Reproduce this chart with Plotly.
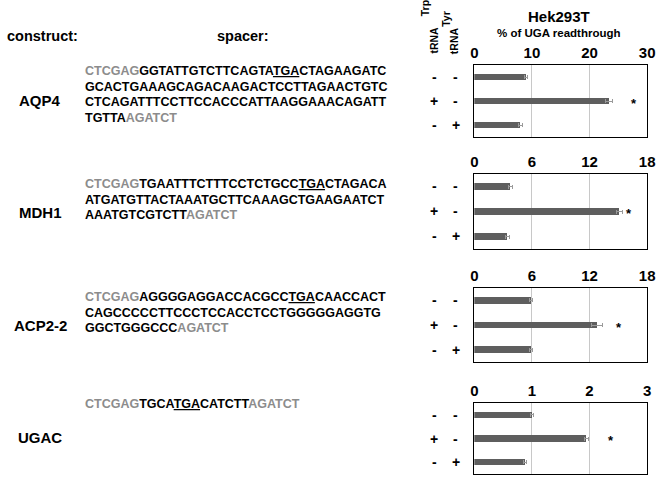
import plotly.graph_objects as go

# ---- data ----
constructs = ['AQP4', 'MDH1', 'ACP2-2', 'UGAC']
trp = ['-', '+', '-']
tyr = ['-', '-', '+']

XHO = 'CTCGAG'
BGL = 'AGATCT'


def gray(s):
    return '<span style="color:#8c8c8c">' + s + '</span>'


aqp4_seq = [gray(XHO) + 'GGTATTGTCTTCAGTA<u>TGA</u>CTAGAAGATC',
            'GCACTGAAAGCAGACAAGACTCCTTAGAACTGTC',
            'CTCAGATTTCCTTCCACCCATTAAGGAAACAGATT',
            'TGTTA' + gray(BGL)]
mdh1_seq = [gray(XHO) + 'TGAATTTCTTTCCTCTGCC<u>TGA</u>CTAGACA',
            'ATGATGTTACTAAATGCTTCAAAGCTGAAGAATCT',
            'AAATGTCGTCTT' + gray(BGL)]
acp2_seq = [gray(XHO) + 'AGGGGAGGACCACGCC<u>TGA</u>CAACCACT',
            'CAGCCCCCTTCCCTCCACCTCCTGGGGGAGGTG',
            'GGCTGGGCCC' + gray(BGL)]
ugac_seq = [gray(XHO) + 'TGCA<u>TGA</u>CATCTT' + gray(BGL)]

aqp4_vals = [9.0, 23.4, 8.0]
aqp4_err = [0.3, 0.6, 0.3]
mdh1_vals = [3.8, 15.1, 3.45]
mdh1_err = [0.2, 0.3, 0.2]
acp2_vals = [5.9, 12.8, 5.9]
acp2_err = [0.2, 0.6, 0.2]
ugac_vals = [1.0, 1.95, 0.88]
ugac_err = [0.02, 0.03, 0.03]

axis_max = [30, 18, 18, 3]
axis_ticks = [[0, 10, 20, 30], [0, 6, 12, 18], [0, 6, 12, 18], [0, 1, 2, 3]]
star_x = [27.7, 16.1, 15.1, 2.37]

seqs = [aqp4_seq, mdh1_seq, acp2_seq, ugac_seq]
vals = [aqp4_vals, mdh1_vals, acp2_vals, ugac_vals]
errs = [aqp4_err, mdh1_err, acp2_err, ugac_err]

# ---- layout geometry (pixels) ----
W, H = 662, 477
panel_px = [(65, 137), (174, 249), (288, 362), (403, 474)]
seq_top = [71, 184, 297, 404]
name_y = [100, 212, 325, 437]
line_gap = 15.5
FONT = 'Liberation Sans, Arial, sans-serif'


def px(x):
    return x / W


def py(y):
    return 1 - y / H


def txt(x, y, s, size, **kw):
    d = dict(x=px(x), y=py(y), xref='paper', yref='paper', text=s,
             showarrow=False, xanchor='center', yanchor='middle',
             font=dict(family=FONT, size=size, color='black', weight='bold'))
    d.update(kw)
    return d


fig = go.Figure()
annotations = []

for i in range(4):
    n = '' if i == 0 else str(i + 1)
    fig.add_trace(go.Bar(
        x=vals[i], y=[0, 1, 2], orientation='h', width=0.28,
        marker=dict(color='#5e5e5e', line=dict(width=0)),
        error_x=dict(type='data', array=errs[i], color='#9a9a9a',
                     thickness=1, width=2),
        xaxis='x' + n, yaxis='y' + n, showlegend=False))
    top, bot = panel_px[i]
    fig.layout['xaxis' + n] = dict(
        domain=[px(479), px(655)], anchor='y' + n, side='top',
        range=[0, axis_max[i]], tickvals=axis_ticks[i],
        showgrid=True, gridcolor='#c8c8c8', gridwidth=1, zeroline=False,
        showline=True, mirror=True, linecolor='black', linewidth=1,
        ticks='', tickfont=dict(family=FONT, size=15, color='black', weight='bold'))
    fig.layout['yaxis' + n] = dict(
        domain=[py(bot), py(top)], anchor='x' + n, range=[2.5, -0.5],
        showticklabels=False, showgrid=False, zeroline=False,
        showline=True, mirror=True, linecolor='black', linewidth=1)

    # tRNA +/- columns
    for r in range(3):
        for col, lab in ((438, trp[r]), (460, tyr[r])):
            annotations.append(dict(
                x=px(col), xref='paper', y=r, yref='y' + n, text=lab,
                showarrow=False, xanchor='center', yanchor='middle',
                font=dict(family=FONT, size=14, color='black', weight='bold')))
    # significance star
    annotations.append(dict(
        x=star_x[i], xref='x' + n, y=1, yref='y' + n, text='*', yshift=-2,
        showarrow=False, font=dict(family=FONT, size=13, color='black', weight='bold')))

    # construct name
    annotations.append(txt(37, name_y[i], constructs[i], 15))
    # spacer sequence lines
    for k, line in enumerate(seqs[i]):
        annotations.append(txt(80, seq_top[i] + k * line_gap, line, 12.5,
                               xanchor='left'))

# headers
annotations += [
    txt(1, 36, 'construct:', 14.5, xanchor='left'),
    txt(243, 36, 'spacer:', 14.5),
    txt(565, 16, 'Hek293T', 15),
    txt(565, 33, '% of UGA readthrough', 11.5),
    txt(437, 56, 'tRNA', 10.5, textangle=-90, yanchor='bottom'),
    txt(429, 18, 'Trp', 10.5, textangle=-90, yanchor='bottom'),
    txt(458, 56, 'tRNA', 10.5, textangle=-90, yanchor='bottom'),
    txt(450, 29, 'Tyr', 10.5, textangle=-90, yanchor='bottom'),
]

fig.update_layout(
    width=W, height=H, margin=dict(l=0, r=0, t=0, b=0),
    paper_bgcolor='white', plot_bgcolor='white',
    annotations=annotations, bargap=0)

fig.write_html('out.html', config={'displayModeBar': False},
               post_script="document.body.style.margin='0';"
                           "document.body.style.overflow='hidden';")
